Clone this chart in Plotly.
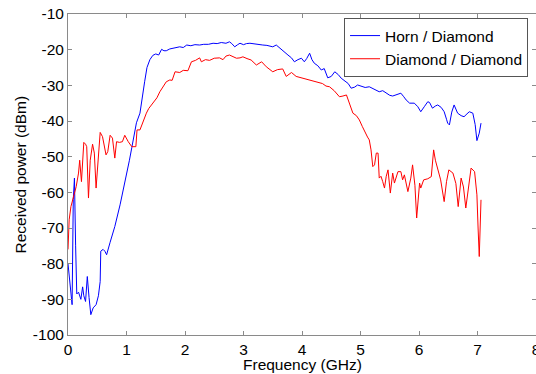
import plotly.graph_objects as go

# Horn / Diamond (blue)
freq_horn = [0.00, 0.03, 0.07, 0.09, 0.11, 0.13, 0.15, 0.18, 0.22, 0.25, 0.27, 0.30, 0.33, 0.36, 0.39,
             0.43, 0.48, 0.52, 0.55, 0.56, 0.60, 0.63, 0.66, 0.72, 0.80, 0.89, 0.95, 1.00, 1.05, 1.09,
             1.13, 1.17, 1.23, 1.27, 1.31, 1.35, 1.40, 1.45, 1.50, 1.55, 1.60, 1.64, 1.68, 1.74, 1.79,
             1.85, 1.91, 1.97, 2.03, 2.10, 2.17, 2.25, 2.32, 2.40, 2.48, 2.55, 2.62, 2.70, 2.76, 2.80,
             2.85, 2.90, 2.94, 3.00, 3.05, 3.11, 3.18, 3.25, 3.33, 3.40, 3.45, 3.50, 3.56, 3.60, 3.65,
             3.70, 3.76, 3.82, 3.87, 3.93, 3.99, 4.04, 4.08, 4.13, 4.17, 4.21, 4.27, 4.33, 4.38, 4.44,
             4.50, 4.56, 4.62, 4.67, 4.73, 4.79, 4.84, 4.90, 4.95, 5.02, 5.08, 5.15, 5.22, 5.28, 5.32,
             5.38, 5.44, 5.50, 5.55, 5.62, 5.69, 5.74, 5.78, 5.84, 5.92, 5.98, 6.03, 6.09, 6.15, 6.18,
             6.23, 6.28, 6.32, 6.38, 6.43, 6.47, 6.49, 6.52, 6.56, 6.60, 6.66, 6.72, 6.77, 6.82, 6.86,
             6.92, 6.96, 6.99, 7.03, 7.06]
power_horn = [-80.0, -84.5, -91.5, -62.0, -56.0, -75.0, -88.5, -88.0, -90.0, -86.5, -89.0, -90.6, -83.6, -89.5, -94.3,
              -92.4, -91.5, -89.0, -85.0, -76.5, -76.0, -76.5, -77.5, -74.0, -69.6, -63.5, -59.0, -55.0, -51.0, -47.5,
              -44.0, -40.5, -37.8, -34.0, -29.0, -25.0, -22.8, -21.6, -21.2, -21.5, -19.9, -20.3, -20.3, -19.8, -19.6,
              -19.4, -19.2, -19.4, -18.7, -18.9, -18.6, -18.7, -18.5, -18.5, -18.2, -18.3, -18.0, -18.2, -17.8, -18.3,
              -19.2, -18.6, -18.2, -18.6, -18.3, -18.2, -18.4, -18.5, -18.7, -18.8, -19.0, -19.2, -18.7, -19.3, -20.1,
              -20.6, -21.5, -22.3, -23.4, -22.8, -22.4, -23.4, -22.5, -21.0, -22.8, -23.8, -24.5, -25.7, -25.3, -27.9,
              -27.5, -26.2, -27.0, -28.0, -28.8, -29.5, -30.8, -30.5, -29.9, -30.3, -30.6, -30.4, -31.0, -31.5, -31.8,
              -31.5, -32.2, -32.8, -33.0, -32.5, -32.2, -33.2, -34.1, -35.0, -35.0, -36.0, -37.4, -36.0, -34.6, -34.8,
              -36.4, -35.8, -35.5, -36.2, -37.4, -39.5, -40.6, -41.1, -37.5, -35.5, -37.8, -38.5, -38.8, -38.0, -37.4,
              -37.8, -41.0, -45.5, -43.4, -40.6]

# Diamond / Diamond (red)
freq_diamond = [0.00, 0.02, 0.05, 0.09, 0.14, 0.18, 0.20, 0.23, 0.27, 0.30, 0.32, 0.35, 0.38, 0.42, 0.45,
                0.48, 0.52, 0.55, 0.59, 0.62, 0.65, 0.68, 0.72, 0.76, 0.80, 0.83, 0.88, 0.93, 0.97, 1.03,
                1.09, 1.16, 1.18, 1.23, 1.26, 1.31, 1.34, 1.38, 1.43, 1.48, 1.52, 1.57, 1.62, 1.68, 1.74,
                1.78, 1.83, 1.91, 1.97, 2.05, 2.11, 2.18, 2.25, 2.28, 2.35, 2.42, 2.50, 2.59, 2.65, 2.70,
                2.76, 2.82, 2.88, 2.94, 2.99, 3.06, 3.13, 3.22, 3.31, 3.39, 3.45, 3.50, 3.58, 3.67, 3.73,
                3.82, 3.90, 3.97, 4.05, 4.13, 4.20, 4.30, 4.35, 4.41, 4.47, 4.55, 4.64, 4.70, 4.76, 4.82,
                4.87, 4.93, 4.98, 5.03, 5.07, 5.12, 5.15, 5.18, 5.21, 5.24, 5.27, 5.30, 5.32, 5.35, 5.38,
                5.41, 5.44, 5.47, 5.51, 5.55, 5.58, 5.64, 5.69, 5.72, 5.75, 5.81, 5.86, 5.89, 5.93, 5.96,
                6.01, 6.03, 6.08, 6.15, 6.21, 6.25, 6.28, 6.32, 6.37, 6.43, 6.47, 6.51, 6.58, 6.63, 6.67,
                6.72, 6.76, 6.80, 6.85, 6.89, 6.95, 6.99, 7.01, 7.03, 7.06]
power_diamond = [-76.0, -67.7, -64.0, -61.6, -58.4, -54.6, -51.0, -57.0, -46.0, -46.5, -47.2, -61.6, -51.0, -46.5, -49.0,
                 -58.8, -48.0, -43.2, -44.4, -47.5, -49.5, -48.6, -44.0, -44.8, -50.4, -45.8, -46.0, -45.8, -44.0, -45.8,
                 -47.2, -47.2, -42.5, -42.5, -41.1, -38.8, -37.8, -36.5, -35.3, -34.1, -33.5, -31.8, -30.4, -29.0, -28.5,
                 -28.6, -26.2, -26.4, -25.8, -25.9, -23.4, -23.0, -22.3, -23.4, -22.8, -23.0, -22.4, -22.3, -22.8, -21.8,
                 -21.5, -22.0, -22.4, -22.3, -22.0, -22.5, -22.9, -24.3, -23.4, -24.8, -25.5, -26.2, -25.6, -25.4, -27.5,
                 -26.4, -27.5, -27.8, -28.0, -28.5, -28.8, -29.2, -29.5, -30.2, -30.4, -31.5, -33.2, -33.0, -32.7, -35.5,
                 -37.8, -38.5, -39.7, -41.5, -43.0, -44.5, -45.3, -48.1, -52.8, -52.3, -49.0, -49.0, -56.0, -55.5, -57.0,
                 -58.8, -55.5, -53.7, -60.2, -54.6, -57.4, -54.2, -54.2, -56.5, -55.1, -59.8, -56.0, -52.3, -58.0, -67.2,
                 -57.4, -58.8, -56.5, -56.2, -55.6, -48.1, -51.0, -53.7, -56.5, -62.6, -57.0, -53.7, -54.6, -57.5, -64.0,
                 -56.0, -58.5, -64.4, -58.0, -53.2, -54.2, -60.7, -70.0, -78.0, -62.1]

x_ticks = [0, 1, 2, 3, 4, 5, 6, 7, 8]
y_ticks = [-100, -90, -80, -70, -60, -50, -40, -30, -20, -10]

FONT = "Liberation Sans, Arial, sans-serif"
FS = 15.5
AXIS_GRAY = "#8a8a8a"

fig = go.Figure()
fig.add_trace(go.Scatter(x=freq_horn, y=power_horn, mode="lines", name="Horn / Diamond",
                         line=dict(color="#0000ff", width=1)))
fig.add_trace(go.Scatter(x=freq_diamond, y=power_diamond, mode="lines", name="Diamond / Diamond",
                         line=dict(color="#ff0000", width=1)))

axis_common = dict(showline=True, linecolor=AXIS_GRAY, linewidth=1, mirror="allticks",
                   ticks="inside", ticklen=4, tickcolor=AXIS_GRAY, showgrid=False, zeroline=False,
                   automargin=False, ticklabeloverflow="allow",
                   tickfont=dict(family=FONT, size=FS, color="#000000"))

fig.update_layout(
    width=536, height=374,
    margin=dict(l=68, r=0, t=14, b=39, autoexpand=False),
    paper_bgcolor="white", plot_bgcolor="white",
    font=dict(family=FONT, size=FS, color="#000000"),
    xaxis=dict(range=[0, 8], tickvals=x_ticks, ticktext=[str(v) for v in x_ticks], **axis_common),
    yaxis=dict(range=[-100, -10], tickvals=y_ticks, ticktext=[str(v) for v in y_ticks], **axis_common),
    legend=dict(x=0.983, y=0.9875, xanchor="right", yanchor="top",
                bgcolor="white", bordercolor="#555555", borderwidth=1,
                font=dict(family=FONT, size=FS, color="#000000"),
                itemwidth=30, tracegroupgap=0),
    showlegend=True,
    annotations=[
        dict(text="Frequency (GHz)", xref="paper", yref="paper", x=0.5, y=0,
             xanchor="center", yanchor="top", yshift=-19, showarrow=False,
             font=dict(family=FONT, size=FS, color="#000000")),
        dict(text="Received power (dBm)", xref="paper", yref="paper", x=0, y=0.5,
             xanchor="center", yanchor="middle", xshift=-48, textangle=-90, showarrow=False,
             font=dict(family=FONT, size=FS, color="#000000")),
    ],
)

# Remove the default 8 px page margin so the figure fills the window exactly.
fig.write_html("out.html",
               config={"displayModeBar": False},
               post_script="document.body.style.margin='0';document.body.style.overflow='hidden';")
